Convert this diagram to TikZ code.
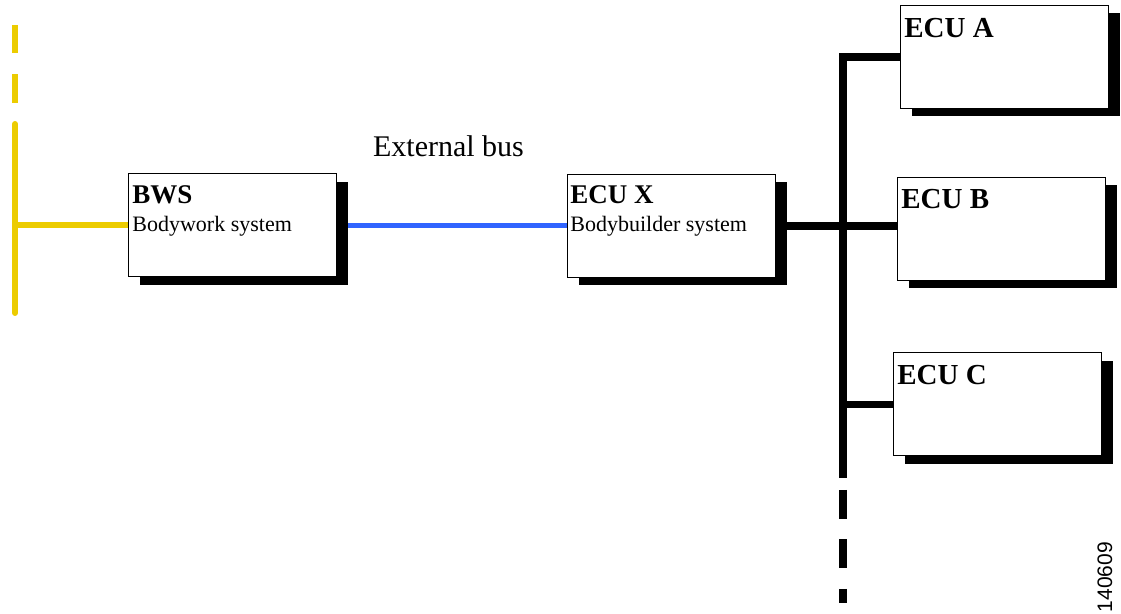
\documentclass[tikz,border=0pt]{standalone}
\usepackage{fontspec}
\setmainfont{Liberation Serif}
\newfontfamily\numfont{Liberation Sans}
\usepackage{tikz}
\usetikzlibrary{shadows}
\usetikzlibrary{backgrounds}
\usepackage{xcolor}
\definecolor{busblue}{RGB}{48,100,255}
\definecolor{busyellow}{RGB}{236,204,0}
\tikzset{ecu/.style={draw,line width=0.5pt,fill=white,minimum width=104pt,minimum height=51.5pt,inner sep=0pt,
  drop shadow={shadow xshift=5.5pt,shadow yshift=-4pt,fill=black,opacity=1}}}
\tikzset{ecutitle/.style={anchor=base west,inner sep=0pt,font=\fontsize{13.5}{16}\selectfont\bfseries}}
\tikzset{ecuname/.style={ecutitle,font=\fontsize{14.5}{17}\selectfont\bfseries}}
\tikzset{ecusub/.style={anchor=base west,inner sep=0pt,font=\fontsize{11}{13}\selectfont}}
\tikzset{yline/.style={busyellow,line width=3pt}}
\tikzset{bline/.style={busblue,line width=2.75pt}}
\tikzset{kline/.style={black,line width=3.75pt,line join=miter}}

\begin{document}
\begin{tikzpicture}[x=0.5pt,y=-0.5pt]
\useasboundingbox (0,0) rectangle (1121,614);

\draw (232.5,225.5) node[ecu](bws) {} ;
\draw (671.5,226) node[ecu](ecux) {} ;
\draw (1004.5,57) node[ecu](ecua) {} ;
\draw (1001.5,229) node[ecu](ecub) {} ;
\draw (997.5,404.5) node[ecu](ecuc) {} ;

\draw ([shift={(4,30)}]bws.north west) node[ecutitle](bwst) {BWS} ;
\draw ([shift={(4,58)}]bws.north west) node[ecusub](bwss) {Bodywork system} ;
\draw ([shift={(3,30)}]ecux.north west) node[ecutitle](ecuxt) {ECU X} ;
\draw ([shift={(3,58)}]ecux.north west) node[ecusub](ecuxs) {Bodybuilder system} ;
\draw ([shift={(4,33)}]ecua.north west) node[ecuname](ecuat) {ECU A} ;
\draw ([shift={(4,32)}]ecub.north west) node[ecuname](ecubt) {ECU B} ;
\draw ([shift={(4,32)}]ecuc.north west) node[ecuname](ecuct) {ECU C} ;

\draw (448.5,157) node[anchor=base,inner sep=0pt,font=\fontsize{15}{18}\selectfont](ext) {External bus} ;
\draw (1105,577) node[rotate=90,inner sep=0pt,font=\numfont\fontsize{10.5}{12}\selectfont](num) {140609} ;

\begin{scope}[on background layer]
\coordinate (ytop) at (15,25);
\coordinate (ymid) at (15,124);
\coordinate (ybot) at (15,313);
\draw[yline,dash pattern=on 14.25pt off 10.5pt] (ytop) -- (ymid);
\draw[yline,line cap=round] (ymid) -- (ybot);
\draw[yline] (bws.west) -- (bws.west -| ymid);

\draw[bline] (bws.east) -- (bws.east -| ecux.west);

\coordinate (bmid) at (843,478);
\coordinate (bdash) at (843,490);
\coordinate (bend) at (843,603);
\draw[kline] (ecua.west) -| (bmid);
\draw[kline,dash pattern=on 14.5pt off 10.25pt] (bdash) -- (bend);
\draw[kline] (ecux.east) -- (ecux.east -| ecub.west);
\draw[kline] (ecuc.west) -- (ecuc.west -| bmid);
\end{scope}
\end{tikzpicture}
\end{document}
